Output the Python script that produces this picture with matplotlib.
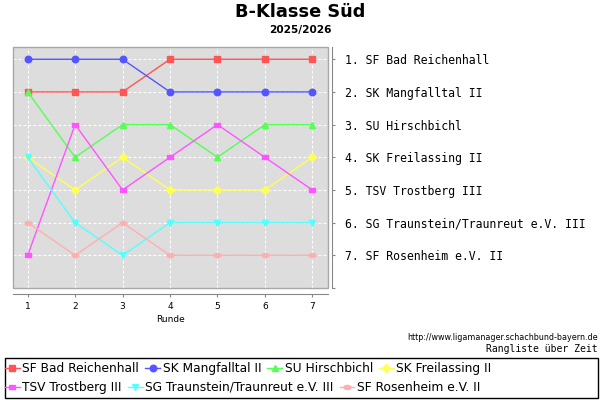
import matplotlib
matplotlib.use('Agg')
import matplotlib.pyplot as plt
from matplotlib.path import Path
from matplotlib.patches import Rectangle
import numpy as np

rounds = [1, 2, 3, 4, 5, 6, 7]
teams = ['SF Bad Reichenhall', 'SK Mangfalltal II', 'SU Hirschbichl', 'SK Freilassing II',
         'TSV Trostberg III', 'SG Traunstein/Traunreut e.V. III', 'SF Rosenheim e.V. II']
ranks = [
    [2, 2, 2, 1, 1, 1, 1],
    [1, 1, 1, 2, 2, 2, 2],
    [2, 4, 3, 3, 4, 3, 3],
    [4, 5, 4, 5, 5, 5, 4],
    [7, 3, 5, 4, 3, 4, 5],
    [4, 6, 7, 6, 6, 6, 6],
    [6, 7, 6, 7, 7, 7, 7],
]
final_table = ['1. SF Bad Reichenhall', '2. SK Mangfalltal II', '3. SU Hirschbichl',
               '4. SK Freilassing II', '5. TSV Trostberg III',
               '6. SG Traunstein/Traunreut e.V. III', '7. SF Rosenheim e.V. II']
colors = ['#FF5555', '#5555FF', '#55FF55', '#FFFF55', '#FF55FF', '#55FFFF', '#FFAFAF']

# jfreechart-like shapes
rect_wide = Path([(-1, -0.6), (1, -0.6), (1, 0.6), (-1, 0.6), (-1, -0.6)],
                 [Path.MOVETO, Path.LINETO, Path.LINETO, Path.LINETO, Path.CLOSEPOLY])
t = np.linspace(0, 2 * np.pi, 30)
ellipse = Path(np.column_stack([np.cos(t), 0.6 * np.sin(t)]))
markers = ['s', 'o', '^', 'D', rect_wide, 'v', ellipse]
msizes = [4.3, 4.7, 5.0, 3.8, 5.0, 5.0, 5.0]

fig = plt.figure(figsize=(6, 4), dpi=100)
ax = fig.add_axes([13 / 600, 1 - 288 / 400, 314.5 / 600, 241 / 400])
ax.set_facecolor('#DDDDDD')

lines = []
for i in range(len(teams)):
    ln, = ax.plot(rounds, ranks[i], color=colors[i], lw=1, marker=markers[i],
                  ms=msizes[i], mec=colors[i], mfc=colors[i], label=teams[i], zorder=3)
    lines.append(ln)

ax.set_xlim(0.69, 7.32)
ax.set_ylim(8, 0.625)
ax.yaxis.tick_right()
ax.set_xticks(rounds)
ax.set_yticks(range(1, 9))
ax.set_yticklabels(final_table + [''])
ax.grid(True, color='white', ls=(0, (2.5, 2)), lw=0.8)
ax.set_axisbelow(True)

for s in ['top', 'left']:
    ax.spines[s].set_visible(False)
ax.add_patch(Rectangle((0, 0), 1, 1, transform=ax.transAxes, fill=False,
                       ec='#A8A8A8', lw=1, clip_on=False, zorder=5))
ax.spines['bottom'].set_position(('outward', 4.3))
ax.spines['bottom'].set_color('#888888')
ax.spines['right'].set_position(('outward', 3.3))
ax.spines['right'].set_color('#888888')
ax.tick_params(axis='y', length=2.5, color='#888888', pad=7, labelsize=8.3,
               labelfontfamily='DejaVu Sans Mono')
ax.tick_params(axis='x', length=2.5, color='#888888', labelsize=6.5, pad=3)
ax.set_xlabel('Runde', fontsize=6.5, labelpad=3)

fig.text(0.5, 1 - 12 / 400, 'B-Klasse Süd', ha='center', va='center',
         fontsize=12.8, fontweight='bold')
fig.text(0.5, 1 - 30 / 400, '2025/2026', ha='center', va='center',
         fontsize=7.6, fontweight='bold')
fig.text(598 / 600, 1 - 338 / 400, 'http://www.ligamanager.schachbund-bayern.de',
         ha='right', va='center', fontsize=5.8)
fig.text(598 / 600, 1 - 349.5 / 400, 'Rangliste über Zeit', ha='right', va='center',
         fontsize=7, family='DejaVu Sans Mono')

# legend box, two flowing rows
fig.patches.append(Rectangle((5 / 600, 1 - 397.5 / 400), 593 / 600, 39.5 / 400,
                             transform=fig.transFigure, fill=False, ec='black', lw=1))
kw = dict(frameon=False, fontsize=8.8, handlelength=1.2, handletextpad=0.22,
          columnspacing=0.5, borderpad=0, borderaxespad=0, loc='center left')
leg1 = fig.legend(lines[:4], teams[:4], ncol=4, bbox_to_anchor=(5 / 600, 1 - 368.3 / 400), **kw)
leg2 = fig.legend(lines[4:], teams[4:], ncol=3, bbox_to_anchor=(5 / 600, 1 - 387.3 / 400), **kw)

fig.savefig('out.png', dpi=100)
